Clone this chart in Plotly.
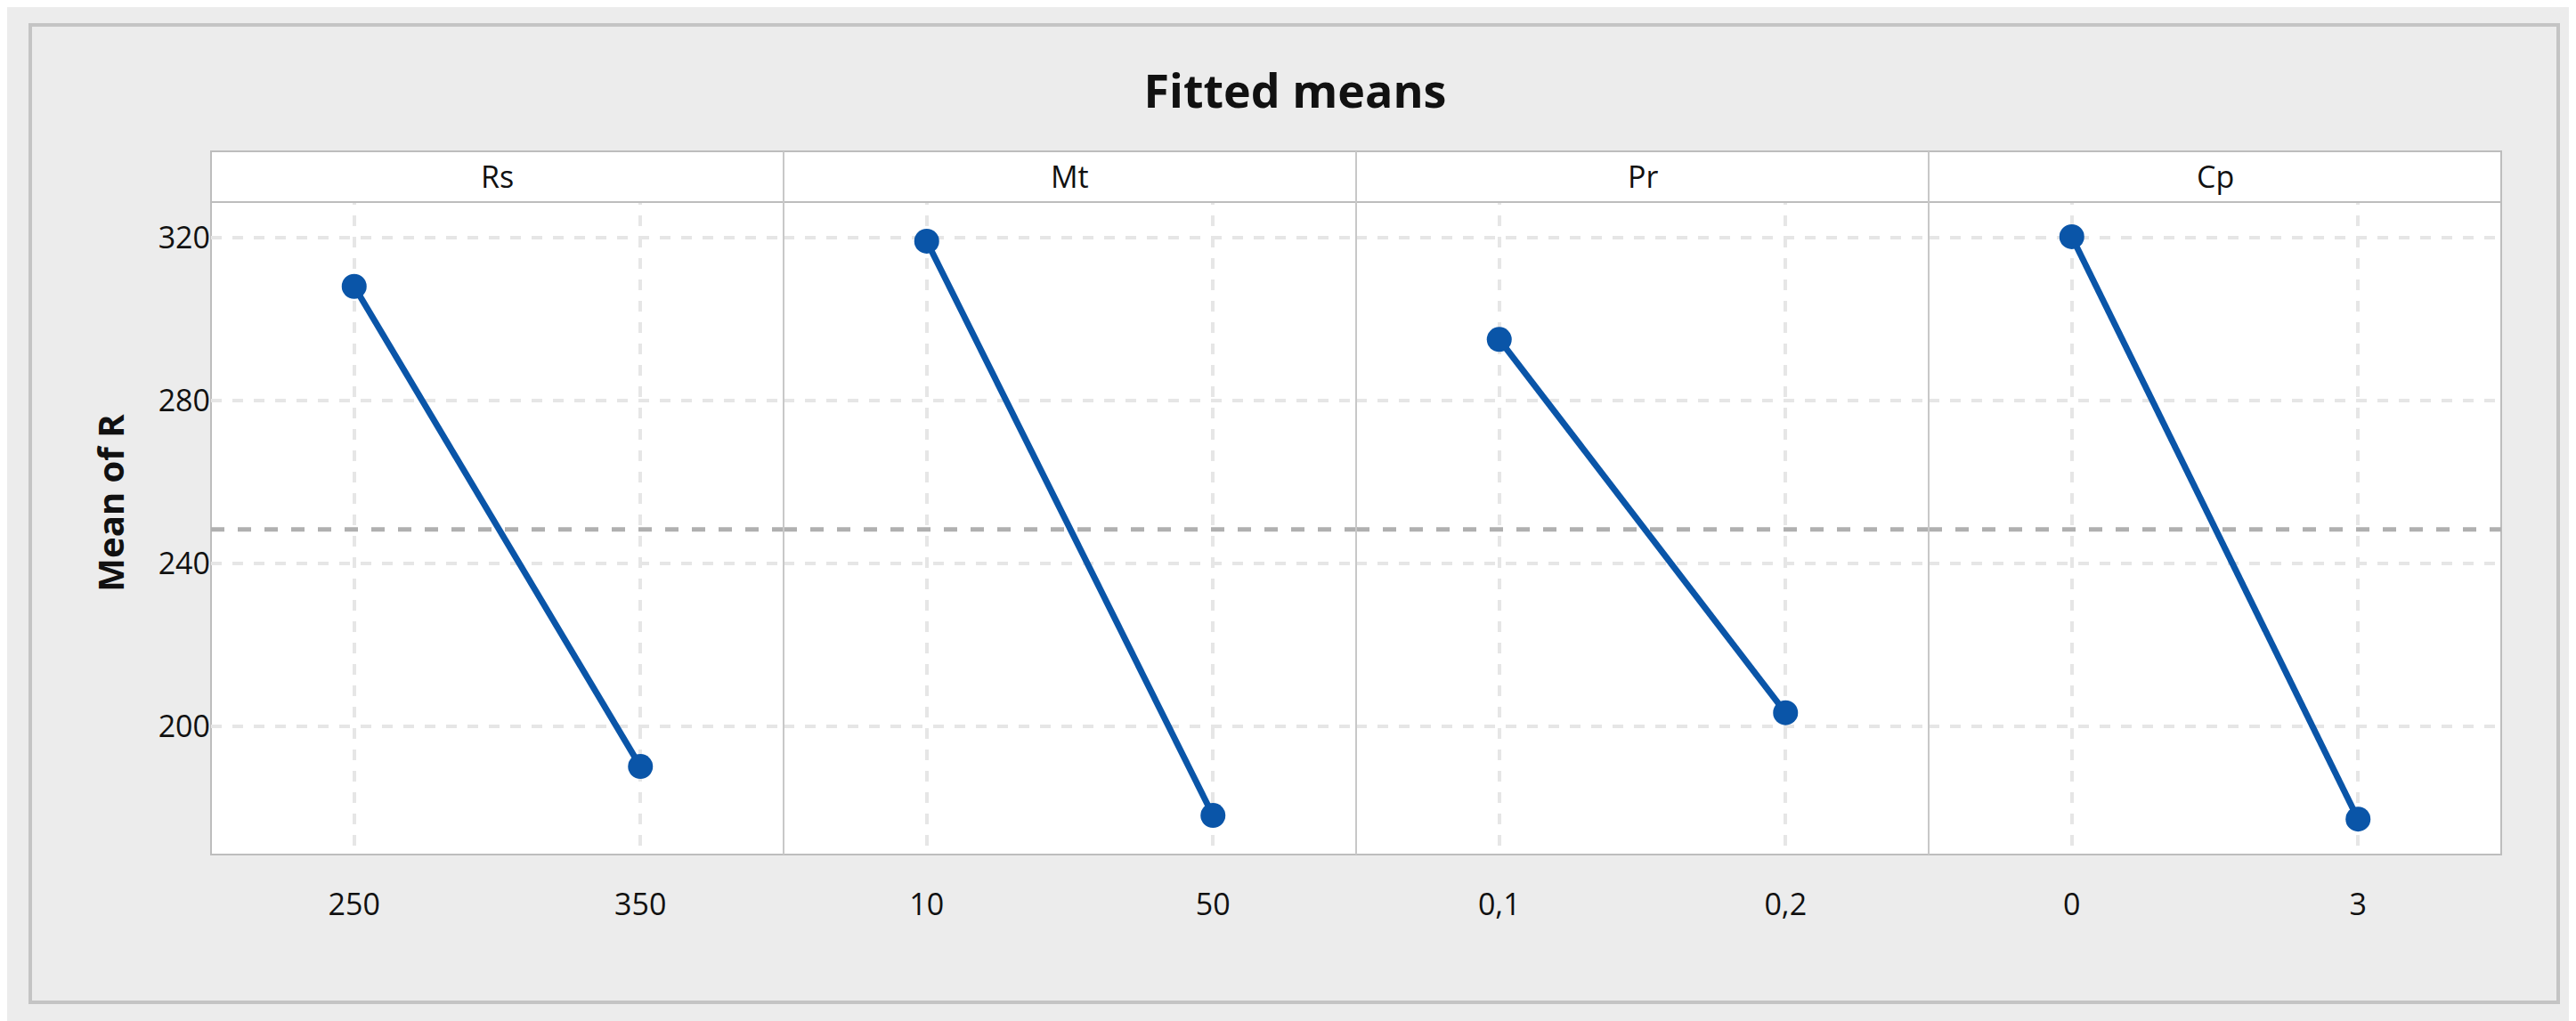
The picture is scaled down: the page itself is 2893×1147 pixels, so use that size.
import plotly.graph_objects as go
from plotly.subplots import make_subplots

factors = ["Rs", "Mt", "Pr", "Cp"]
levels = [["250", "350"], ["10", "50"], ["0,1", "0,2"], ["0", "3"]]
means = [[308.0, 190.2], [319.1, 178.2], [295.0, 203.4], [320.2, 177.3]]
grand_mean = 248.4

W, H = 2893, 1147
L, R, T, B = 229, 92, 162, 195
plot_h = H - T - B
strip_h = 57
ytop = 1 - strip_h / plot_h

fig = make_subplots(rows=1, cols=4, shared_yaxes=True, horizontal_spacing=0)
blue = "#0a55a8"
font = "Open Sans"
for i, (f, lv, m) in enumerate(zip(factors, levels, means)):
    c = i + 1
    fig.add_trace(go.Scatter(x=[0, 1], y=m, mode="lines+markers",
                             line=dict(color=blue, width=7),
                             marker=dict(color=blue, size=28),
                             showlegend=False, cliponaxis=False), row=1, col=c)
    fig.add_trace(go.Scatter(x=[-0.5, 1.5], y=[grand_mean, grand_mean], mode="lines",
                             line=dict(color="#b0b0b0", width=5, dash="dash"),
                             showlegend=False, hoverinfo="skip"), row=1, col=c)
    fig.update_xaxes(range=[-0.5, 1.5], tickvals=[0, 1], ticktext=lv,
                     showgrid=True, gridcolor="#e6e6e6", gridwidth=4, griddash="dash",
                     zeroline=False, showline=False, ticks="outside", ticklen=26,
                     tickcolor="rgba(0,0,0,0)",
                     tickfont=dict(family=font, size=34, color="#111"),
                     row=1, col=c)

fig.update_yaxes(range=[168.6, 328.7 + strip_h * (328.7 - 168.6) / (plot_h - strip_h)],
                 tickvals=[200, 240, 280, 320], showgrid=True, gridcolor="#e6e6e6",
                 gridwidth=4, griddash="dash", zeroline=False, showline=False,
                 ticks="", tickfont=dict(family=font, size=34, color="#111"))
fig.update_yaxes(title=dict(text="<b>Mean of R</b>", font=dict(family=font, size=40, color="#111"),
                            standoff=25), row=1, col=1)

shapes = []
pw = W - L - R
shapes.append(dict(type="rect", xref="paper", yref="paper",
                   x0=(26 - L) / pw, x1=(2865 - L) / pw,
                   y0=(H - B - 1118) / plot_h, y1=(H - B - 20) / plot_h,
                   line=dict(color="#c4c4c4", width=4), layer="below"))
shapes.append(dict(type="rect", xref="paper", yref="paper", x0=0, x1=1, y0=0, y1=1,
                   fillcolor="white", line=dict(color="#bdbdbd", width=2), layer="below"))
# strip band covers grid lines
shapes.append(dict(type="rect", xref="paper", yref="paper", x0=0, x1=1, y0=ytop, y1=1,
                   fillcolor="white", line=dict(color="#bdbdbd", width=2), layer="above"))
for k in range(1, 4):
    shapes.append(dict(type="line", xref="paper", yref="paper", x0=k / 4, x1=k / 4, y0=0, y1=1,
                       line=dict(color="#c8c8c8", width=2), layer="above"))
anns = []
for i, f in enumerate(factors):
    anns.append(dict(text=f, xref="paper", yref="paper", x=(i + 0.5) / 4,
                     y=(1 + ytop) / 2, yanchor="middle", xanchor="center", showarrow=False,
                     font=dict(family=font, size=34, color="#111")))

fig.update_layout(width=W, height=H, margin=dict(l=L, r=R, t=T, b=B),
                  paper_bgcolor="#ececec", plot_bgcolor="rgba(0,0,0,0)",
                  shapes=shapes, annotations=anns,
                  title=dict(text="<b>Fitted means</b>", x=0.5, xanchor="center", y=1 - 95 / H,
                             yanchor="middle",
                             font=dict(family=font, size=52, color="#111")))
fig.write_html("out.html")
